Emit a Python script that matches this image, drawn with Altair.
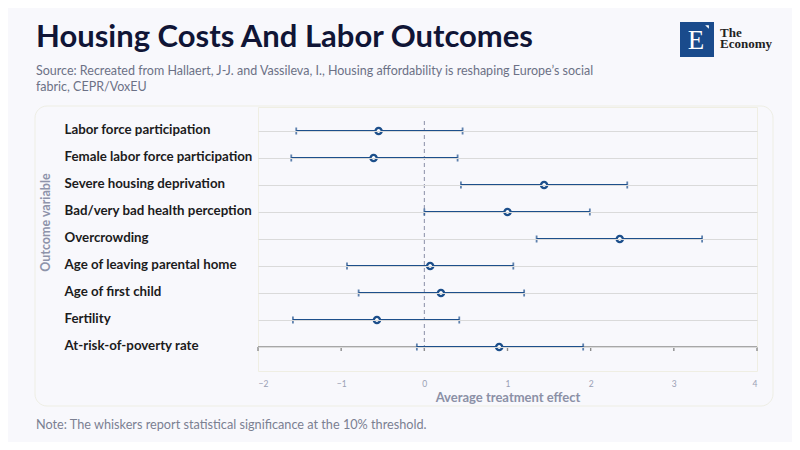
import altair as alt
import pandas as pd

# ---- data ----
outcomes = [
    "Labor force participation",
    "Female labor force participation",
    "Severe housing deprivation",
    "Bad/very bad health perception",
    "Overcrowding",
    "Age of leaving parental home",
    "Age of first child",
    "Fertility",
    "At-risk-of-poverty rate",
]
estimate = [-0.55, -0.61, 1.44, 1.00, 2.35, 0.07, 0.20, -0.57, 0.90]
lower = [-1.54, -1.60, 0.44, 0.00, 1.35, -0.93, -0.79, -1.58, -0.09]
upper = [0.46, 0.40, 2.44, 1.99, 3.34, 1.07, 1.20, 0.42, 1.91]
x_ticks = [-2, -1, 0, 1, 2, 3, 4]

title_text = "Housing Costs And Labor Outcomes"
subtitle_lines = [
    "Source: Recreated from Hallaert, J-J. and Vassileva, I., Housing affordability is reshaping Europe\u2019s social",
    "fabric, CEPR/VoxEU",
]
note_text = "Note: The whiskers report statistical significance at the 10% threshold."

df = pd.DataFrame({"outcome": outcomes, "est": estimate, "lo": lower, "hi": upper})
ticks_df = pd.DataFrame({"t": x_ticks, "outcome": outcomes[-1]})
axis_df = pd.DataFrame({"x0": [x_ticks[0]], "x1": [x_ticks[-1]], "outcome": [outcomes[-1]]})
zero_df = pd.DataFrame({"z": [0], "y0": [outcomes[0]], "y1": [outcomes[-1]]})
one = pd.DataFrame({"a": [0]})

W, H = 499, 264
BLUE = "#1d4f8b"
FONT = "Lato"

xscale = alt.Scale(domain=[x_ticks[0], x_ticks[-1]], nice=False, zero=False)
yscale = alt.Scale(type="point", domain=outcomes, padding=24 / 27)

xenc = alt.X(
    "est:Q",
    scale=xscale,
    axis=alt.Axis(
        values=x_ticks,
        format="d",
        domain=False,
        ticks=False,
        tickSize=0,
        grid=False,
        labelFontSize=8.5,
        labelColor="#9aa0b4",
        labelPadding=12,
        labelBaseline="middle",
        title="Average treatment effect",
        titleFontSize=13,
        titleFontWeight="bold",
        titleColor="#8b90a6",
        titleY=26,
        titleBaseline="middle",
        zindex=1,
    ),
)
yenc = alt.Y(
    "outcome:N",
    scale=yscale,
    sort=outcomes,
    axis=alt.Axis(
        domain=False,
        ticks=False,
        tickSize=0,
        grid=True,
        gridColor="#dadada",
        gridWidth=1,
        labelAlign="left",
        labelPadding=194,
        labelFontSize=13.3,
        labelFontWeight="bold",
        labelColor="#1c1c1c",
        labelBaseline="alphabetic",
        labelOffset=2,
        labelLimit=250,
        title="Outcome variable",
        titleFontSize=12.5,
        titleFontWeight="bold",
        titleColor="#8e93aa",
        titleAngle=270,
        titleX=-213,
        titleY=115,
        titleAlign="center",
        titleBaseline="middle",
        zindex=1,
    ),
)

card = alt.Chart(one).mark_rect(
    fill="transparent", stroke="#eeeee4", strokeWidth=1, cornerRadius=12
).encode(x=alt.value(-223), x2=alt.value(515), y=alt.value(-1), y2=alt.value(299))

axis_line = alt.Chart(axis_df).mark_rule(color="#8c8c8c", strokeWidth=1.4).encode(
    x=alt.X("x0:Q", scale=xscale), x2="x1:Q", y=alt.Y("outcome:N", scale=yscale, sort=outcomes)
)
axis_ticks = alt.Chart(ticks_df).mark_rule(color="#8c8c8c", strokeWidth=1.4, y2Offset=4).encode(
    x=alt.X("t:Q", scale=xscale),
    y=alt.Y("outcome:N", scale=yscale, sort=outcomes),
    y2="outcome:N",
)
zero_line = alt.Chart(zero_df).mark_rule(
    color="#8a8fa6", strokeWidth=1, strokeDash=[4, 3], yOffset=-10, y2Offset=2
).encode(
    x=alt.X("z:Q", scale=xscale),
    y=alt.Y("y0:N", scale=yscale, sort=outcomes),
    y2="y1:N",
)

base = alt.Chart(df)
whisk = base.mark_rule(color=BLUE, strokeWidth=2).encode(
    x=alt.X("lo:Q", scale=xscale), x2="hi:Q", y=yenc
)
cap_lo = base.mark_tick(color=BLUE, thickness=1.8, size=7, orient="vertical").encode(
    x=alt.X("lo:Q", scale=xscale), y=alt.Y("outcome:N", scale=yscale, sort=outcomes)
)
cap_hi = base.mark_tick(color=BLUE, thickness=1.8, size=7, orient="vertical").encode(
    x=alt.X("hi:Q", scale=xscale), y=alt.Y("outcome:N", scale=yscale, sort=outcomes)
)
pts = base.mark_point(
    shape="circle", filled=True, fill="white", stroke=BLUE, strokeWidth=2.4, size=38, opacity=1
).encode(x=xenc, y=alt.Y("outcome:N", scale=yscale, sort=outcomes))

title = alt.Chart(one).mark_text(
    text=title_text, align="left", baseline="alphabetic", fontSize=31, fontWeight="bold",
    color="#101536", font=FONT,
).encode(x=alt.value(-222), y=alt.value(-60))
subtitle = alt.Chart(one).mark_text(
    text=subtitle_lines, align="left", baseline="alphabetic", fontSize=12.5, lineHeight=16,
    color="#6c7186", font=FONT,
).encode(x=alt.value(-222), y=alt.value(-32))
note = alt.Chart(one).mark_text(
    text=note_text, align="left", baseline="middle", fontSize=12.7, color="#7b8092", font=FONT
).encode(x=alt.value(-222), y=alt.value(318))

logo_box = alt.Chart(one).mark_rect(fill="#1a4b8c").encode(
    x=alt.value(422), x2=alt.value(456), y=alt.value(-85), y2=alt.value(-50)
)
logo_e = alt.Chart(one).mark_text(
    text="E", font="Liberation Serif", fontSize=27, color="white", align="center", baseline="middle"
).encode(x=alt.value(438), y=alt.value(-66))
logo_tri = alt.Chart(one).mark_point(
    shape="M -1 -1 L 1 -1 L 1 1 Z", filled=True, fill="white", opacity=1, size=14, strokeWidth=0
).encode(x=alt.value(449), y=alt.value(-80))
logo_the = alt.Chart(one).mark_text(
    text="The", font="Liberation Serif", fontSize=13, fontWeight="bold", color="#222222",
    align="left", baseline="alphabetic",
).encode(x=alt.value(462), y=alt.value(-70))
logo_eco = alt.Chart(one).mark_text(
    text="Economy", font="Liberation Serif", fontSize=13, fontWeight="bold", color="#222222",
    align="left", baseline="alphabetic",
).encode(x=alt.value(462), y=alt.value(-59))

chart = alt.layer(
    card, axis_line, axis_ticks, zero_line, whisk, cap_lo, cap_hi, pts,
    title, subtitle, note, logo_box, logo_e, logo_tri, logo_the, logo_eco,
).properties(
    width=W,
    height=H,
    autosize=alt.AutoSizeParams(type="none"),
    padding={"left": 250, "top": 99, "right": 35, "bottom": 71},
    background="#f8f8fc",
).configure_view(
    stroke="#efeee3", strokeWidth=1
).configure_axis(
    labelFont=FONT, titleFont=FONT
)

chart.save("out.html", embed_options={"renderer": "svg", "actions": False})
